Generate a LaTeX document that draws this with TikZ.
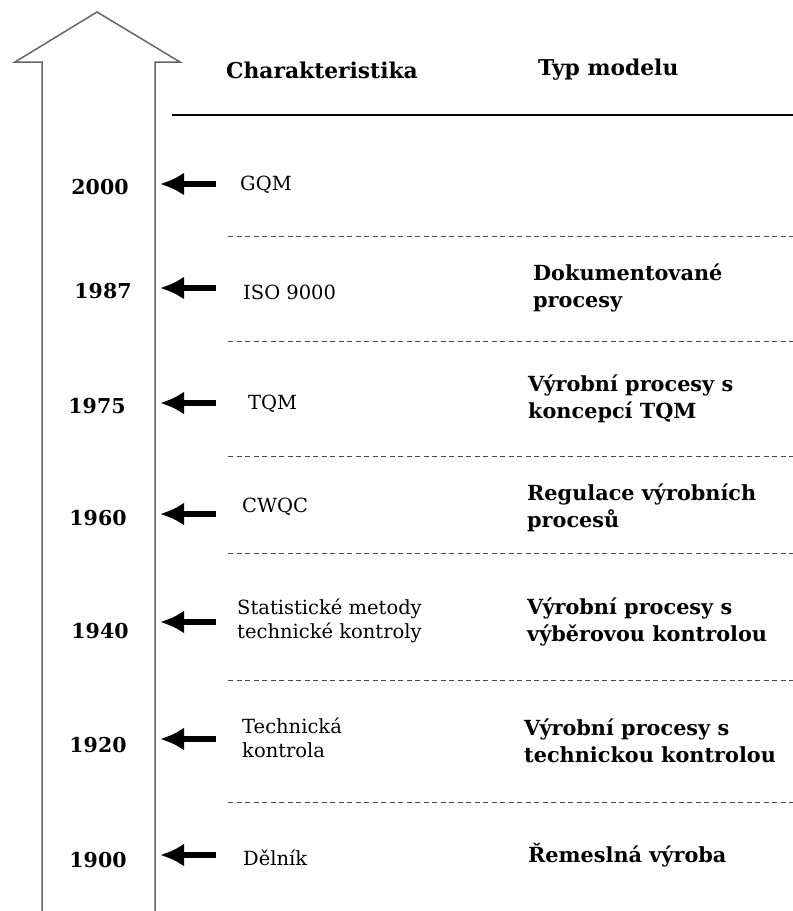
\documentclass[tikz,border=0pt]{standalone}
\usepackage{fontspec}
\setmainfont{DejaVu Serif}
\usetikzlibrary{arrows.meta}
\tikzset{
  shaftline/.style={draw=black!60, line width=1.5pt},
  pointer/.style={line width=5.5pt, -{Latex[length=24pt,width=23pt]}},
  year/.style={font=\fontsize{20.5}{22}\selectfont\bfseries, anchor=center},
  charx/.style={font=\fontsize{19.5}{24}\selectfont, anchor=west, align=left, inner sep=0pt},
  typx/.style={font=\fontsize{20.8}{27}\selectfont\bfseries, anchor=west, align=left, inner sep=0pt},
  head/.style={font=\fontsize{21.8}{24}\selectfont\bfseries, anchor=west, inner sep=0pt},
  sep/.style={draw=black!70, line width=0.9pt, dash pattern=on 5pt off 3.5pt}
}
\begin{document}
\begin{tikzpicture}[x=1pt, y=-1pt]
  \useasboundingbox (0,0) rectangle (793,911);

  % big upward arrow (time axis)
  \draw[shaftline, line join=miter]
    (42,911) -- (42,62) -- (15,62) -- (97,12) -- (180,62) -- (155,62) -- (155,911);

  % column headings
  \node[head] (hchar) at (226,70) {Charakteristika};
  \node[head] (htyp)  at (538,70) {Typ modelu};
  \coordinate (rulel) at (172,115);
  \coordinate (ruler) at (793,115);
  \draw[line width=1.1pt] (rulel) -- (ruler);

  % years
  \node[year] (y2000) at (100,187) {2000};
  \node[year] (y1987) at (103,291) {1987};
  \node[year] (y1975) at (97,406) {1975};
  \node[year] (y1960) at (98,518) {1960};
  \node[year] (y1940) at (100,631) {1940};
  \node[year] (y1920) at (98,745) {1920};
  \node[year] (y1900) at (98,860) {1900};

  % characteristics
  \node[charx] (c2000) at (240,185) {GQM};
  \node[charx] (c1987) at (243,292) {ISO 9000};
  \node[charx] (c1975) at (248,404) {TQM};
  \node[charx] (c1960) at (242,507) {CWQC};
  \node[charx] (c1940) at (237,621) {Statistické metody\\technické kontroly};
  \node[charx] (c1920) at (242,738) {Technická\\kontrola};
  \node[charx] (c1900) at (243,858) {Dělník};

  % model types
  \node[typx] (t1987) at (533,288) {Dokumentované\\procesy};
  \node[typx] (t1975) at (528,399) {Výrobní procesy s\\koncepcí TQM};
  \node[typx] (t1960) at (527,508) {Regulace výrobních\\procesů};
  \node[typx] (t1940) at (527,622) {Výrobní procesy s\\výběrovou kontrolou};
  \node[typx] (t1920) at (524,741) {Výrobní procesy s\\technickou kontrolou};
  \node[typx] (t1900) at (528,855) {Řemeslná výroba};

  % pointers into the time axis
  \foreach \n/\yy in {a/184, b/288, c/403, d/514, e/622, f/739, g/855} {
    \coordinate (tail\n) at (216,\yy);
    \coordinate (tip\n) at (160,\yy);
    \draw[pointer] (tail\n) -- (tip\n);
  }

  % dashed separators between periods
  \foreach \n/\yy in {a/236, b/341, c/456, d/553, e/680, f/802} {
    \coordinate (sl\n) at (228,\yy);
    \coordinate (sr\n) at (793,\yy);
    \draw[sep] (sl\n) -- (sr\n);
  }
\end{tikzpicture}
\end{document}
